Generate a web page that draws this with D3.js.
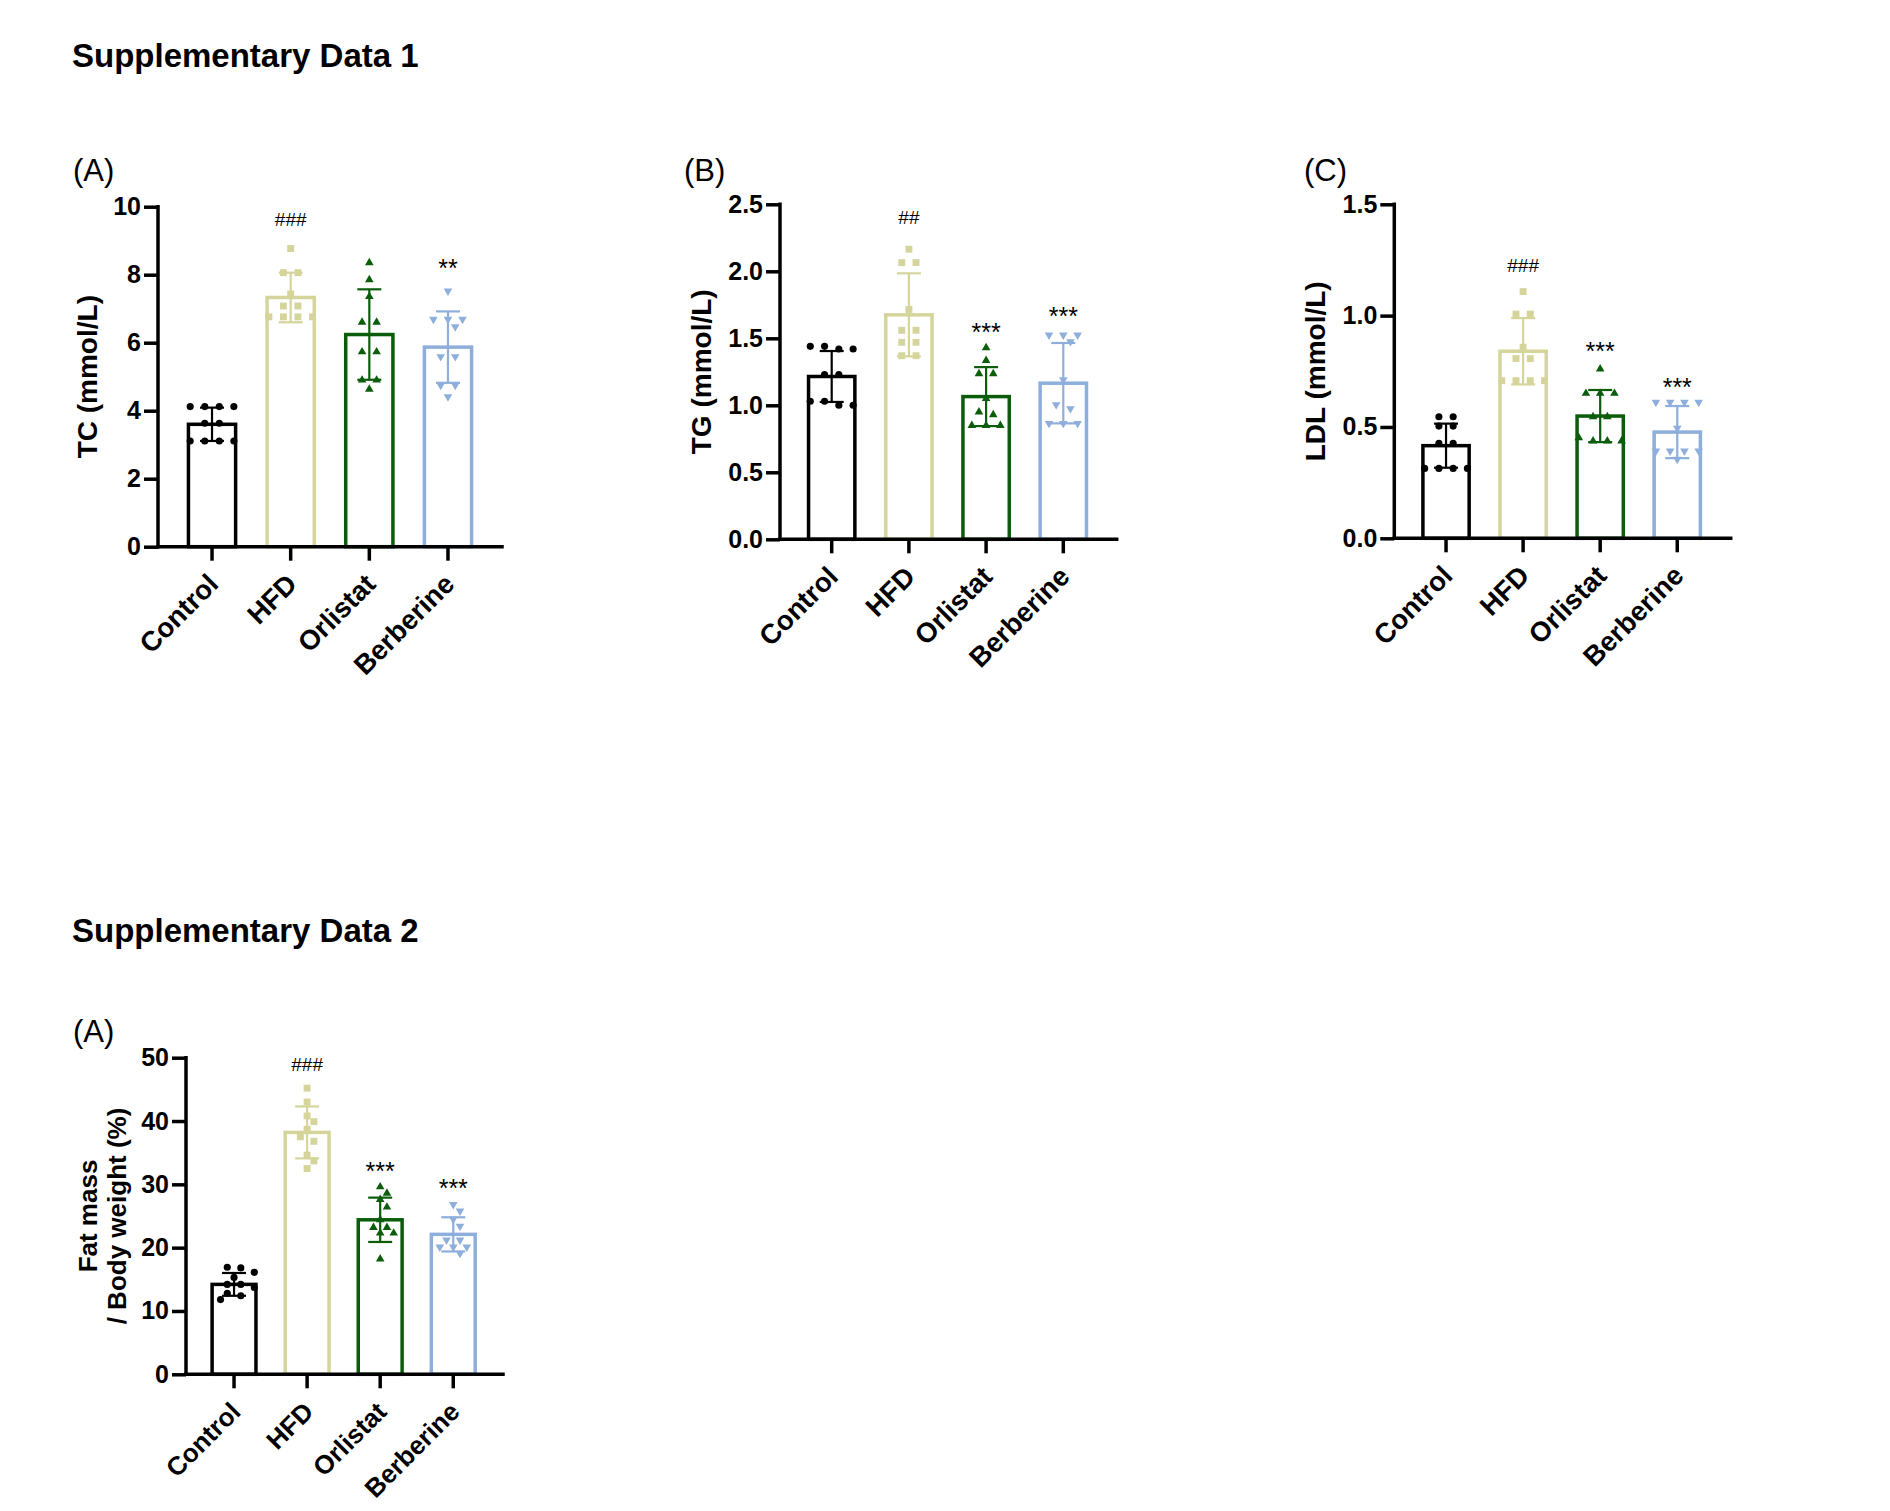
<!doctype html>
<html lang="en">
<head>
  <meta charset="utf-8">
  <script src="https://d3js.org/d3.v7.min.js"></script>
  <style>
    body { margin: 0; background: #fff; }
    svg text { font-family: "Liberation Sans", Arial, sans-serif; }
  </style>
</head>
<body>
<script>
  var width = 1890,
      height = 1511;

  // groups, colours, marker shapes
  var categories = ["Control", "HFD", "Orlistat", "Berberine"];
  var colors = ["#000000", "#d5d59b", "#0b5d0b", "#8eaedb"];
  var shapes = ["circle", "square", "triangle", "down"];

  // Supplementary Data 1 (A) TC
  var tcTicks = [0, 2, 4, 6, 8, 10];
  var tcMean = [3.60, 7.33, 6.24, 5.87];
  var tcSD = [0.49, 0.73, 1.33, 1.05];
  var tcPoints = [
    [4.12, 4.12, 4.12, 4.12, 3.63, 3.63, 3.11, 3.11, 3.11, 3.11],
    [8.77, 8.06, 8.06, 7.43, 7.08, 7.08, 6.76, 6.76, 6.76, 6.76],
    [8.35, 7.85, 7.36, 6.60, 6.60, 5.73, 5.73, 4.90, 4.90, 4.63],
    [7.52, 6.69, 6.69, 6.69, 6.47, 5.59, 5.59, 4.75, 4.75, 4.41]
  ];
  var tcSig = ["", "###", "", "**"];
  var tcSigAt = [null, 9.62, null, 8.35];

  // (B) TG
  var tgTicks = [0, 0.5, 1.0, 1.5, 2.0, 2.5];
  var tgMean = [1.215, 1.675, 1.065, 1.165];
  var tgSD = [0.19, 0.31, 0.22, 0.30];
  var tgPoints = [
    [1.44, 1.44, 1.42, 1.42, 1.23, 1.23, 1.03, 1.03, 1.00, 1.00],
    [2.165, 2.065, 2.065, 1.715, 1.56, 1.56, 1.47, 1.47, 1.37, 1.37],
    [1.43, 1.335, 1.235, 1.235, 1.05, 0.95, 0.93, 0.85, 0.85, 0.85],
    [1.525, 1.525, 1.525, 1.475, 1.19, 1.005, 0.975, 0.865, 0.865, 0.865]
  ];
  var tgSig = ["", "##", "***", "***"];
  var tgSigAt = [null, 2.40, 1.587, 1.704];

  // (C) LDL
  var ldlTicks = [0, 0.5, 1.0, 1.5];
  var ldlMean = [0.416, 0.84, 0.549, 0.477];
  var ldlSD = [0.099, 0.149, 0.117, 0.117];
  var ldlPoints = [
    [0.546, 0.546, 0.504, 0.504, 0.427, 0.427, 0.314, 0.314, 0.314, 0.314],
    [1.108, 1.007, 1.007, 0.858, 0.807, 0.807, 0.708, 0.708, 0.708, 0.708],
    [0.760, 0.651, 0.651, 0.651, 0.546, 0.546, 0.452, 0.437, 0.437, 0.437],
    [0.611, 0.611, 0.611, 0.611, 0.494, 0.392, 0.392, 0.392, 0.392, 0.355]
  ];
  var ldlSig = ["", "###", "***", "***"];
  var ldlSigAt = [null, 1.227, 0.864, 0.706];

  // Supplementary Data 2 (A) fat mass
  var fatTicks = [0, 10, 20, 30, 40, 50];
  var fatMean = [14.2, 38.2, 24.4, 22.1];
  var fatSD = [1.8, 4.1, 3.5, 2.7];
  var fatPoints = [
    [16.9, 16.8, 16.1, 15.3, 14.2, 14.2, 13.7, 12.8, 12.4, 11.8],
    [45.2, 43.0, 40.8, 39.9, 38.7, 37.5, 36.8, 34.6, 33.7, 32.5],
    [29.6, 28.6, 27.6, 26.4, 24.4, 23.2, 23.2, 22.3, 22.3, 18.2],
    [26.8, 25.8, 24.5, 23.4, 21.2, 21.2, 20.1, 20.1, 20.1, 19.1]
  ];
  var fatSig = ["", "###", "***", "***"];
  var fatSigAt = [null, 49.0, 32.9, 30.25];

  var svg = d3.select("body").append("svg")
      .attr("width", width)
      .attr("height", height)
      .style("background-color", "white");

  // section titles
  svg.append("text").attr("x", 72).attr("y", 67)
      .attr("font-size", 33).attr("font-weight", "bold")
      .text("Supplementary Data 1");
  svg.append("text").attr("x", 72).attr("y", 942)
      .attr("font-size", 33).attr("font-weight", "bold")
      .text("Supplementary Data 2");

  var symbolTypes = {
    circle: d3.symbol().type(d3.symbolCircle).size(40),
    square: d3.symbol().type(d3.symbolSquare).size(48),
    triangle: d3.symbol().type(d3.symbolTriangle).size(32),
    down: d3.symbol().type(d3.symbolTriangle).size(32)
  };

  // spread points sideways the way Prism does: equal rows centred, then nudge away from overlaps
  function placePoints(vals, y, spacing, minDist) {
    var sorted = vals.slice().sort(function(a, b) { return b - a; });
    var rows = [];
    sorted.forEach(function(v) {
      var last = rows[rows.length - 1];
      if (last && Math.abs(y(v) - last.py) < 5) last.vals.push(v);
      else rows.push({ py: y(v), vals: [v] });
    });
    var placed = [];
    rows.forEach(function(row) {
      var n = row.vals.length;
      var shifts = [0];
      for (var k = 1; k <= 6; k++) shifts.push(k * spacing / 2, -k * spacing / 2);
      var done = false;
      for (var s = 0; s < shifts.length && !done; s++) {
        var offs = row.vals.map(function(v, i) { return (i - (n - 1) / 2) * spacing + shifts[s]; });
        var ok = offs.every(function(o, i) {
          return placed.every(function(p) { return Math.hypot(p.dx - o, p.py - y(row.vals[i])) >= minDist; });
        });
        if (ok || s === shifts.length - 1) {
          offs.forEach(function(o, i) { placed.push({ v: row.vals[i], dx: o, py: y(row.vals[i]) }); });
          done = true;
        }
      }
    });
    return placed;
  }

  function drawPanel(p) {
    var g = svg.append("g");

    var y = d3.scaleLinear()
        .domain([0, p.ticks[p.ticks.length - 1]])
        .range([p.bottom, p.top]);
    var x = d3.scaleBand()
        .domain(categories)
        .range([p.bandStart, p.bandEnd]);
    var step = x.step();
    var barW = step * 0.6;

    // panel letter
    svg.append("text").attr("x", p.labelX).attr("y", p.labelY)
        .attr("font-size", 31).text(p.label);

    // bars
    g.selectAll("rect.bar")
        .data(p.means)
      .enter().append("rect")
        .attr("class", "bar")
        .attr("x", function(d, i) { return x(categories[i]) + step / 2 - barW / 2; })
        .attr("y", function(d) { return y(d); })
        .attr("width", barW)
        .attr("height", function(d) { return p.bottom - y(d); })
        .style("fill", "white")
        .style("stroke", function(d, i) { return colors[i]; })
        .style("stroke-width", 3.5);

    // error bars (mean ± SD)
    var capW = 24;
    p.means.forEach(function(m, i) {
      var cx = x(categories[i]) + step / 2;
      var y1 = y(m + p.sds[i]), y0 = y(m - p.sds[i]);
      var eg = g.append("g").style("stroke", colors[i]).style("stroke-width", 2.2);
      eg.append("line").attr("x1", cx).attr("x2", cx).attr("y1", y1).attr("y2", y0);
      eg.append("line").attr("x1", cx - capW / 2).attr("x2", cx + capW / 2).attr("y1", y1).attr("y2", y1);
      eg.append("line").attr("x1", cx - capW / 2).attr("x2", cx + capW / 2).attr("y1", y0).attr("y2", y0);
    });

    // individual points
    p.points.forEach(function(vals, i) {
      var cx = x(categories[i]) + step / 2;
      var pts = placePoints(vals, y, step * 0.185, 8.5);
      g.selectAll(null)
          .data(pts)
        .enter().append("path")
          .attr("d", symbolTypes[shapes[i]])
          .attr("transform", function(d) {
            return "translate(" + (cx + d.dx) + "," + y(d.v) + ")" + (shapes[i] === "down" ? " rotate(180)" : "");
          })
          .style("fill", colors[i]);
    });

    // significance marks
    p.sig.forEach(function(s, i) {
      if (!s) return;
      var isHash = s.charAt(0) === "#";
      var fs = isHash ? 19 : 25;
      g.append("text")
          .attr("x", x(categories[i]) + step / 2)
          .attr("y", y(p.sigAt[i]) + (isHash ? 0.35 : 0.58) * fs)
          .attr("text-anchor", "middle")
          .attr("font-size", fs)
          .text(s);
    });

    // y axis
    var yAxis = g.append("g")
        .attr("transform", "translate(" + p.ax + ",0)")
        .call(d3.axisLeft(y).tickValues(p.ticks).tickFormat(d3.format(p.fmt))
              .tickSize(14).tickSizeOuter(0).tickPadding(3));
    yAxis.select(".domain").remove();
    yAxis.selectAll(".tick line").style("stroke", "black").style("stroke-width", 3.5);
    yAxis.selectAll(".tick text")
        .attr("font-family", "Liberation Sans, Arial, sans-serif")
        .attr("font-size", 25).attr("font-weight", "bold").style("fill", "black");

    // x axis
    var xAxis = g.append("g")
        .attr("transform", "translate(0," + p.bottom + ")")
        .call(d3.axisBottom(x).tickSize(14).tickSizeOuter(0));
    xAxis.select(".domain").remove();
    xAxis.selectAll(".tick line").style("stroke", "black").style("stroke-width", 3.5);
    xAxis.selectAll(".tick text")
        .attr("x", 0).attr("y", 0).attr("dy", 0)
        .attr("text-anchor", "end")
        .attr("transform", "translate(8,39) rotate(-45)")
        .attr("font-family", "Liberation Sans, Arial, sans-serif")
        .attr("font-size", p.catSize).attr("font-weight", "bold").style("fill", "black");

    // axis lines
    g.append("line").attr("x1", p.ax).attr("x2", p.ax).attr("y1", p.top).attr("y2", p.bottom)
        .style("stroke", "black").style("stroke-width", 3.5).style("stroke-linecap", "square");
    g.append("line").attr("x1", p.ax).attr("x2", p.right).attr("y1", p.bottom).attr("y2", p.bottom)
        .style("stroke", "black").style("stroke-width", 3.5).style("stroke-linecap", "square");

    // y axis title (last line sits nearest the axis)
    var n = p.title.length;
    p.title.forEach(function(line, k) {
      g.append("text")
          .attr("transform", "translate(" + (p.ax - p.titleOff - (n - 1 - k) * 29) + "," + ((p.top + p.bottom) / 2) + ") rotate(-90)")
          .attr("text-anchor", "middle")
          .attr("font-size", p.titleSize).attr("font-weight", "bold")
          .text(line);
    });
  }

  drawPanel({
    label: "(A)", labelX: 73, labelY: 181,
    ax: 158, top: 206.7, bottom: 546.7, right: 502, bandStart: 172.7, bandEnd: 487.3,
    ticks: tcTicks, fmt: "d", means: tcMean, sds: tcSD, points: tcPoints,
    sig: tcSig, sigAt: tcSigAt,
    title: ["TC (mmol/L)"], titleOff: 61, titleSize: 28, catSize: 27.5
  });

  drawPanel({
    label: "(B)", labelX: 684, labelY: 181,
    ax: 780, top: 204.3, bottom: 539.3, right: 1116.7, bandStart: 793.1, bandEnd: 1101.9,
    ticks: tgTicks, fmt: ".1f", means: tgMean, sds: tgSD, points: tgPoints,
    sig: tgSig, sigAt: tgSigAt,
    title: ["TG (mmol/L)"], titleOff: 69, titleSize: 28, catSize: 27.5
  });

  drawPanel({
    label: "(C)", labelX: 1304, labelY: 181,
    ax: 1394.3, top: 204.3, bottom: 538.3, right: 1730.7, bandStart: 1407.5, bandEnd: 1715.8,
    ticks: ldlTicks, fmt: ".1f", means: ldlMean, sds: ldlSD, points: ldlPoints,
    sig: ldlSig, sigAt: ldlSigAt,
    title: ["LDL (mmol/L)"], titleOff: 69, titleSize: 28, catSize: 27.5
  });

  drawPanel({
    label: "(A)", labelX: 73, labelY: 1042,
    ax: 186, top: 1057.7, bottom: 1374.3, right: 503, bandStart: 197.5, bandEnd: 489.8,
    ticks: fatTicks, fmt: "d", means: fatMean, sds: fatSD, points: fatPoints,
    sig: fatSig, sigAt: fatSigAt,
    title: ["Fat mass", "/ Body weight (%)"], titleOff: 60, titleSize: 26, catSize: 26
  });
</script>
</body>
</html>
